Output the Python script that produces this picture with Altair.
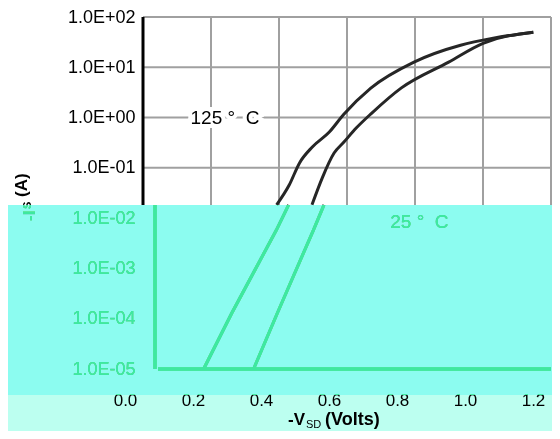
import altair as alt
import pandas as pd

# ---------------- data ----------------
x_ticks = [0.0, 0.2, 0.4, 0.6, 0.8, 1.0, 1.2]
x_tick_labels = ["0.0", "0.2", "0.4", "0.6", "0.8", "1.0", "1.2"]
y_ticks = [1e-5, 1e-4, 1e-3, 1e-2, 1e-1, 1.0, 10.0, 100.0]
y_tick_labels = ["1.0E-05", "1.0E-04", "1.0E-03", "1.0E-02",
                 "1.0E-01", "1.0E+00", "1.0E+01", "1.0E+02"]

vsd_125 = [0.143, 0.226, 0.357, 0.393, 0.430, 0.460, 0.498, 0.548, 0.590, 0.670, 0.797, 0.934, 1.030, 1.148]
is_125 = [1e-5, 1.3e-4, 5.8e-3, 0.0184, 0.0455, 0.124, 0.26, 0.515, 1.15, 3.86, 12.7, 27.5, 38.0, 50.0]
vsd_25 = [0.290, 0.360, 0.466, 0.497, 0.527, 0.562, 0.591, 0.627, 0.673, 0.760, 0.899, 1.000, 1.148]
is_25 = [1e-5, 1.3e-4, 5.8e-3, 0.0184, 0.0627, 0.197, 0.326, 0.618, 1.23, 3.9, 12.7, 30.0, 50.0]

series_names = ["125 C", "25 C"]
label_texts = ["125\u00a0\u00b0\u00a0\u00a0C", "25\u00a0\u00b0\u00a0\u00a0C"]
label_vsd = [0.241, 0.813]
label_is = [1.0, 0.0084]

# ---------------- style ----------------
GRID = "#a0a0a0"
INK = "#262626"
BAND_LIGHTEN = "#71ebaa"
BAND_MULT = "#8cfcf0"
FOOT_MULT = "#bcfff0"
BAND_TOP = 0.01826      # upper edge of the tinted band (data units)
BAND_BOTTOM = 3.04e-6   # lower edge of the tinted band
FAR_LOW = 1e-8
FONT = "Liberation Sans"
SHIFT = 12

xscale = alt.Scale(domain=[0, 1.2], nice=False, zero=False)
yscale = alt.Scale(type="log", domain=[1e-5, 100], nice=False)

x_label_expr = "[" + ",".join("'%s'" % s for s in x_tick_labels) + "][round(datum.value*5)]"
pad = "\u00a0\u00a0\u00a0"
y_label_expr = ("(datum.value > 0.05 ? [" + ",".join("'%s'" % (s + pad) for s in y_tick_labels) + "] : ["
                + ",".join("'%s'" % s for s in y_tick_labels) + "])[round(log(datum.value)/LN10)+5]")

x_axis = alt.Axis(values=x_ticks, labelExpr=x_label_expr, grid=False, domain=False,
                  ticks=False, labelPadding=23, labelOffset=-18,
                  labelFontSize=17, labelFont=FONT, labelColor="black", title=None,
                  labelFlush=False)
y_axis = alt.Axis(values=y_ticks, labelExpr=y_label_expr, grid=False, domain=False,
                  ticks=False, labelPadding=8,
                  labelFontSize=18, labelFont=FONT, labelColor="black", title=None,
                  labelFlush=False)


def X(f):
    return alt.X(f, type="quantitative", scale=xscale, axis=x_axis)


def Y(f):
    return alt.Y(f, type="quantitative", scale=yscale, axis=y_axis)


curves = pd.concat([
    pd.DataFrame({"v": vsd_125, "i": is_125, "s": series_names[0]}),
    pd.DataFrame({"v": vsd_25, "i": is_25, "s": series_names[1]}),
])

grid_v = alt.Chart(pd.DataFrame({"x": x_ticks[1:], "y0": BAND_TOP, "y1": 100.0})).mark_rule(
    color=GRID, strokeWidth=2).encode(x=X("x"), y=Y("y0"), y2="y1")

grid_h = alt.Chart(pd.DataFrame({"y": [t for t in y_ticks if t > BAND_TOP], "x0": 0.0, "x1": 1.2})).mark_rule(
    color=GRID, strokeWidth=2).encode(y=Y("y"), x=X("x0"), x2="x1")

left_up = alt.Chart(pd.DataFrame({"x": [0.0], "y0": [BAND_TOP], "y1": [100.0]})).mark_rule(
    color="black", strokeWidth=3).encode(x=X("x"), y=Y("y0"), y2="y1")
left_low = alt.Chart(pd.DataFrame({"x": [0.0], "y0": [1e-5], "y1": [BAND_TOP]})).mark_rule(
    color="black", strokeWidth=3, xOffset=SHIFT, clip=False).encode(x=X("x"), y=Y("y0"), y2="y1")
bottom = alt.Chart(pd.DataFrame({"x0": [0.0], "x1": [1.2], "y": [1e-5]})).mark_rule(
    color="black", strokeWidth=3, xOffset=15, clip=False).encode(x=X("x0"), x2="x1", y=Y("y"))

curve_up = alt.Chart(curves).transform_filter(alt.datum.i >= 0.0183).mark_line(
    color=INK, strokeWidth=3, interpolate="monotone").encode(x=X("v"), y=Y("i"), detail="s:N", order="v:Q")
curve_low = alt.Chart(curves).transform_filter(alt.datum.i <= 0.0185).mark_line(
    color=INK, strokeWidth=3, xOffset=SHIFT, clip=False).encode(x=X("v"), y=Y("i"), detail="s:N", order="v:Q")

lab_df = pd.DataFrame({"v": label_vsd, "i": label_is, "t": label_texts})
halo = alt.Chart(lab_df).mark_text(font=FONT, fontSize=19, stroke="white", strokeWidth=8,
                                   fill="white", align="center", baseline="middle").encode(
    x=X("v"), y=Y("i"), text="t:N")
labels = alt.Chart(lab_df).mark_text(font=FONT, fontSize=19, color="black",
                                     align="center", baseline="middle").encode(
    x=X("v"), y=Y("i"), text="t:N")

one = pd.DataFrame({"k": [0]})


def txt(t, x, y, size, angle=0, bold=True):
    return alt.Chart(one).mark_text(text=t, font=FONT, fontSize=size, angle=angle,
                                    fontWeight="bold" if bold else "normal", color="black",
                                    align="left", baseline="alphabetic", clip=False).encode(
        x=alt.value(x), y=alt.value(y))


ytitle = [txt("-I", -108, 204, 17, 270), txt("S", -112, 192, 11, 270), txt("(A)", -116, 180, 17, 270)]
xtitle = [txt("-V", 145, 408, 17), txt("SD", 163, 411, 11, bold=False), txt("(Volts)", 182, 408, 18)]

band_a = alt.Chart(pd.DataFrame({"x0": [-0.6], "x1": [1.6], "y0": [BAND_BOTTOM], "y1": [BAND_TOP]})).mark_rect(
    color=BAND_LIGHTEN, blend="lighten", clip=False).encode(x=X("x0"), x2="x1", y=Y("y0"), y2="y1")
band_b = alt.Chart(pd.DataFrame({"x0": [-0.6], "x1": [1.6], "y0": [BAND_BOTTOM], "y1": [BAND_TOP]})).mark_rect(
    color=BAND_MULT, blend="multiply", clip=False).encode(x=X("x0"), x2="x1", y=Y("y0"), y2="y1")
foot = alt.Chart(pd.DataFrame({"x0": [-0.6], "x1": [1.6], "y0": [FAR_LOW], "y1": [BAND_BOTTOM]})).mark_rect(
    color=FOOT_MULT, blend="multiply", clip=False).encode(x=X("x0"), x2="x1", y=Y("y0"), y2="y1")

chart = alt.layer(
    grid_v, grid_h, left_up, left_low, bottom, curve_up, curve_low, halo, labels,
    *ytitle, *xtitle, band_a, band_b, foot
).properties(
    width=408, height=352,
    autosize=alt.AutoSizeParams(type="none"),
    padding={"left": 135, "top": 9, "right": 1, "bottom": 62},
    background="white",
).configure_view(strokeWidth=0)

chart.save("out.html", embed_options={"renderer": "svg", "actions": False})
